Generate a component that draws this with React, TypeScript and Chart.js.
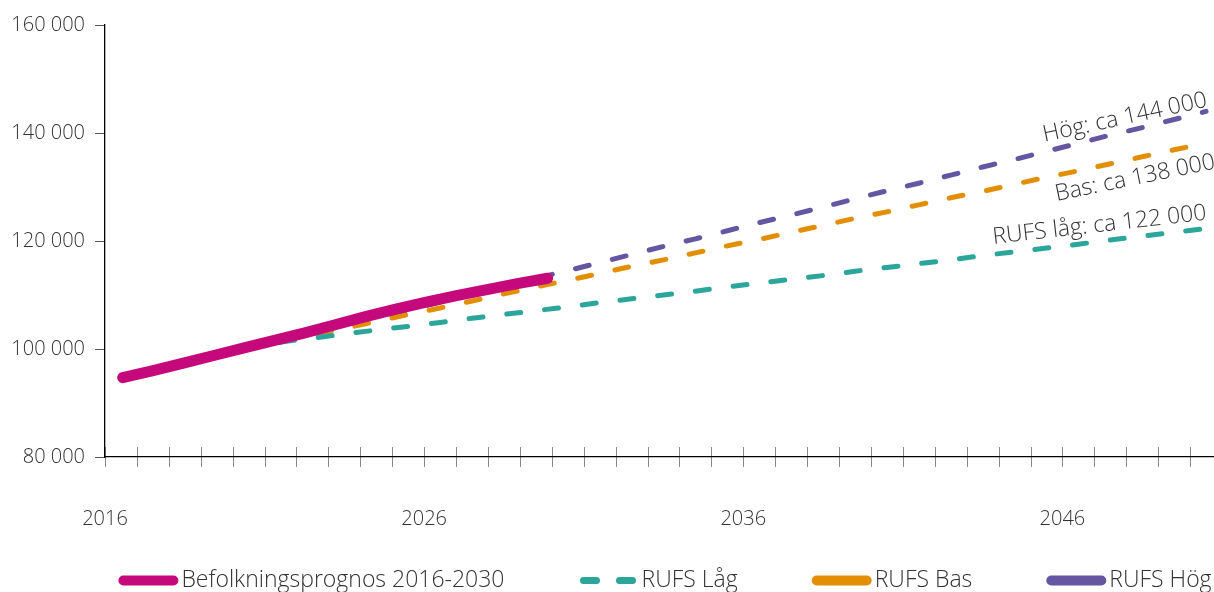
import React, { useEffect, useRef } from "react";
import { Chart, registerables } from "chart.js";

Chart.register(...registerables);

// ---------- data ----------
const prognosLabel = "Befolkningsprognos 2016-2030";
const prognosYears = [2016, 2017, 2018, 2019, 2020, 2021, 2022, 2023, 2024, 2025, 2026, 2027, 2028, 2029, 2030];
const prognosValues = [94700, 96000, 97400, 98800, 100200, 101600, 103000, 104500, 106000, 107400, 108700, 109900, 111000, 112100, 113100];

const rufsYears = [
  2021, 2022, 2023, 2024, 2025, 2026, 2027, 2028, 2029, 2030,
  2031, 2032, 2033, 2034, 2035, 2036, 2037, 2038, 2039, 2040,
  2041, 2042, 2043, 2044, 2045, 2046, 2047, 2048, 2049, 2050,
];
const rufsLag = [
  101300, 102000, 102800, 103500, 104200, 104900, 105700, 106400, 107100, 107800,
  108600, 109300, 110000, 110700, 111500, 112200, 112900, 113600, 114400, 115100,
  115800, 116500, 117300, 118000, 118700, 119400, 120200, 120900, 121600, 122300,
];
const rufsBas = [
  101300, 102600, 103800, 105100, 106400, 107600, 108900, 110200, 111500, 112700,
  114000, 115300, 116500, 117800, 119100, 120300, 121600, 122900, 124200, 125400,
  126700, 128000, 129200, 130500, 131800, 133000, 134300, 135600, 136900, 138100,
];
const rufsHog = [
  101300, 102800, 104200, 105700, 107200, 108700, 110100, 111600, 113100, 114500,
  116000, 117500, 119000, 120400, 121900, 123400, 124800, 126300, 127800, 129300,
  130700, 132200, 133700, 135100, 136600, 138100, 139600, 141000, 142500, 144000,
];

const seriesNames = [prognosLabel, "RUFS Låg", "RUFS Bas", "RUFS Hög"];
const xTickLabels = [2016, 2026, 2036, 2046];
const yMin = 80000;
const yMax = 160000;
const yStep = 20000;

const endLabelTexts = ["RUFS låg: ca 122 000", "Bas: ca 138 000", "Hög: ca 144 000"];

// ---------- styles ----------
const FONT = "'Open Sans', 'DejaVu Sans', sans-serif";
const TEXT = "#333333";
const MAGENTA = "#C5087B";
const TEAL = "#2CA69A";
const ORANGE = "#E28F05";
const PURPLE = "#6456A2";

// label placement relative to each scenario's final point (dataset index)
const endLabelStyle = [
  { ds: 1, dx: 1, dy: -9, angle: -6.5 },
  { ds: 2, dx: 10, dy: 25, angle: -11.6 },
  { ds: 3, dx: 2, dy: -5, angle: -12.2 },
];

const legendSymbols = [
  { width: 10, dash: [] as number[] },
  { width: 7, dash: [13, 23] },
  { width: 10, dash: [] as number[] },
  { width: 10, dash: [] as number[] },
];

const fmt = (v: number) => String(v).replace(/\B(?=(\d{3})+(?!\d))/g, " ");

const crossTicks = {
  id: "crossTicks",
  beforeDraw(chart: any) {
    const s = chart.scales.x;
    const ctx = chart.ctx;
    ctx.save();
    ctx.strokeStyle = "#8a8a8a";
    ctx.lineWidth = 1;
    s.ticks.forEach((t: any) => {
      const px = Math.round(s.getPixelForValue(t.value)) + 0.5;
      ctx.beginPath();
      ctx.moveTo(px, s.top - 10);
      ctx.lineTo(px, s.top + 10);
      ctx.stroke();
    });
    ctx.restore();
  },
};

const endLabels = {
  id: "endLabels",
  afterDatasetsDraw(chart: any) {
    const ctx = chart.ctx;
    endLabelStyle.forEach((st, i) => {
      const meta = chart.getDatasetMeta(st.ds);
      const pt = meta.data[meta.data.length - 1];
      ctx.save();
      ctx.translate(pt.x + st.dx, pt.y + st.dy);
      ctx.rotate((st.angle * Math.PI) / 180);
      ctx.font = `300 23px ${FONT}`;
      ctx.fillStyle = TEXT;
      ctx.textAlign = "right";
      ctx.textBaseline = "alphabetic";
      ctx.fillText(endLabelTexts[i], 0, 0);
      ctx.restore();
    });
  },
};

const customLegend = {
  id: "customLegend",
  afterDraw(chart: any) {
    const ctx = chart.ctx;
    const area = chart.chartArea;
    const SYM = 50;
    const TEXT_OFF = 58;
    const GAP = 79;
    const SHIFT = 4;
    ctx.save();
    ctx.font = `300 23px ${FONT}`;
    ctx.textBaseline = "middle";
    ctx.textAlign = "left";
    const items = chart.data.datasets.map((ds: any, i: number) => ({
      text: ds.label,
      color: ds.borderColor,
      sym: legendSymbols[i],
      w: ctx.measureText(ds.label).width,
    }));
    let total = 0;
    items.forEach((it: any, i: number) => {
      total += TEXT_OFF + it.w + (i < items.length - 1 ? GAP : 0);
    });
    let x = (area.left + area.right) / 2 - total / 2 + SHIFT;
    const y = area.bottom + 123.5;
    items.forEach((it: any) => {
      ctx.beginPath();
      ctx.strokeStyle = it.color;
      ctx.lineWidth = it.sym.width;
      ctx.lineCap = "round";
      ctx.setLineDash(it.sym.dash);
      ctx.moveTo(x, y);
      ctx.lineTo(x + SYM, y);
      ctx.stroke();
      ctx.setLineDash([]);
      ctx.fillStyle = TEXT;
      ctx.fillText(it.text, x + TEXT_OFF, y);
      x += TEXT_OFF + it.w + GAP;
    });
    ctx.restore();
  },
};

export default function App() {
  const ref = useRef<HTMLCanvasElement>(null);

  useEffect(() => {
    const canvas = ref.current;
    if (!canvas) return;
    const dashed = (label: string, color: string, values: number[]) => ({
      label,
      // scenario points sit in the middle of each year's band
      data: rufsYears.map((yr, i) => ({ x: yr + 0.5, y: values[i] })),
      xAxisID: "x",
      borderColor: color,
      backgroundColor: color,
      borderWidth: 5,
      borderDash: [14, 24],
      borderCapStyle: "round",
      borderJoinStyle: "round",
      pointRadius: 0,
      tension: 0,
      fill: false,
    });
    const chart = new Chart(canvas, {
      type: "line",
      data: {
        datasets: [
          {
            label: seriesNames[0],
            data: prognosYears.map((yr, i) => ({ x: yr, y: prognosValues[i] })),
            xAxisID: "x2",
            borderColor: MAGENTA,
            backgroundColor: MAGENTA,
            borderWidth: 11,
            borderCapStyle: "round",
            borderJoinStyle: "round",
            pointRadius: 0,
            tension: 0,
            fill: false,
          } as any,
          dashed(seriesNames[1], TEAL, rufsLag),
          dashed(seriesNames[2], ORANGE, rufsBas),
          dashed(seriesNames[3], PURPLE, rufsHog),
        ],
      },
      options: {
        responsive: false,
        animation: false,
        events: [],
        layout: { padding: { top: 25, left: 0, right: 0, bottom: 0 } },
        scales: {
          x: {
            type: "linear",
            position: "bottom",
            min: 2016,
            max: 2051,
            afterFit: (s: any) => {
              s.height = 135;
            },
            ticks: {
              stepSize: 1,
              maxTicksLimit: 100,
              autoSkip: false,
              maxRotation: 0,
              padding: 0,
              color: TEXT,
              font: { family: FONT, size: 20, weight: "300" },
              callback: (v: any) => (xTickLabels.includes(Number(v)) ? String(v) : ""),
            },
            grid: {
              display: true,
              drawOnChartArea: false,
              drawTicks: true,
              tickLength: 50,
              color: "rgba(0,0,0,0)",
            },
            border: { display: true, color: "#000000", width: 1.3 },
          },
          x2: {
            type: "linear",
            axis: "x",
            position: "bottom",
            display: false,
            min: 2015.417,
            max: 2052.217,
          },
          y: {
            type: "linear",
            min: yMin,
            max: yMax,
            afterFit: (s: any) => {
              s.width = 105;
            },
            ticks: {
              stepSize: yStep,
              padding: 10,
              color: TEXT,
              font: { family: FONT, size: 20, weight: "300" },
              callback: (v: any) => fmt(Number(v)),
            },
            grid: { drawOnChartArea: false, drawTicks: true, tickLength: 10, color: "#555555", lineWidth: 1 },
            border: { display: true, color: "#000000", width: 1.3 },
          },
        },
        plugins: {
          legend: { display: false },
          tooltip: { enabled: false },
        },
      } as any,
      plugins: [crossTicks, endLabels, customLegend],
    });
    return () => chart.destroy();
  }, []);

  return (
    <div
      style={{
        position: "fixed",
        left: 0,
        top: 0,
        width: 1214,
        height: 592,
        overflow: "hidden",
        background: "#ffffff",
      }}
    >
      <canvas ref={ref} width={1222} height={592} style={{ display: "block", width: 1222, height: 592 }} />
    </div>
  );
}
